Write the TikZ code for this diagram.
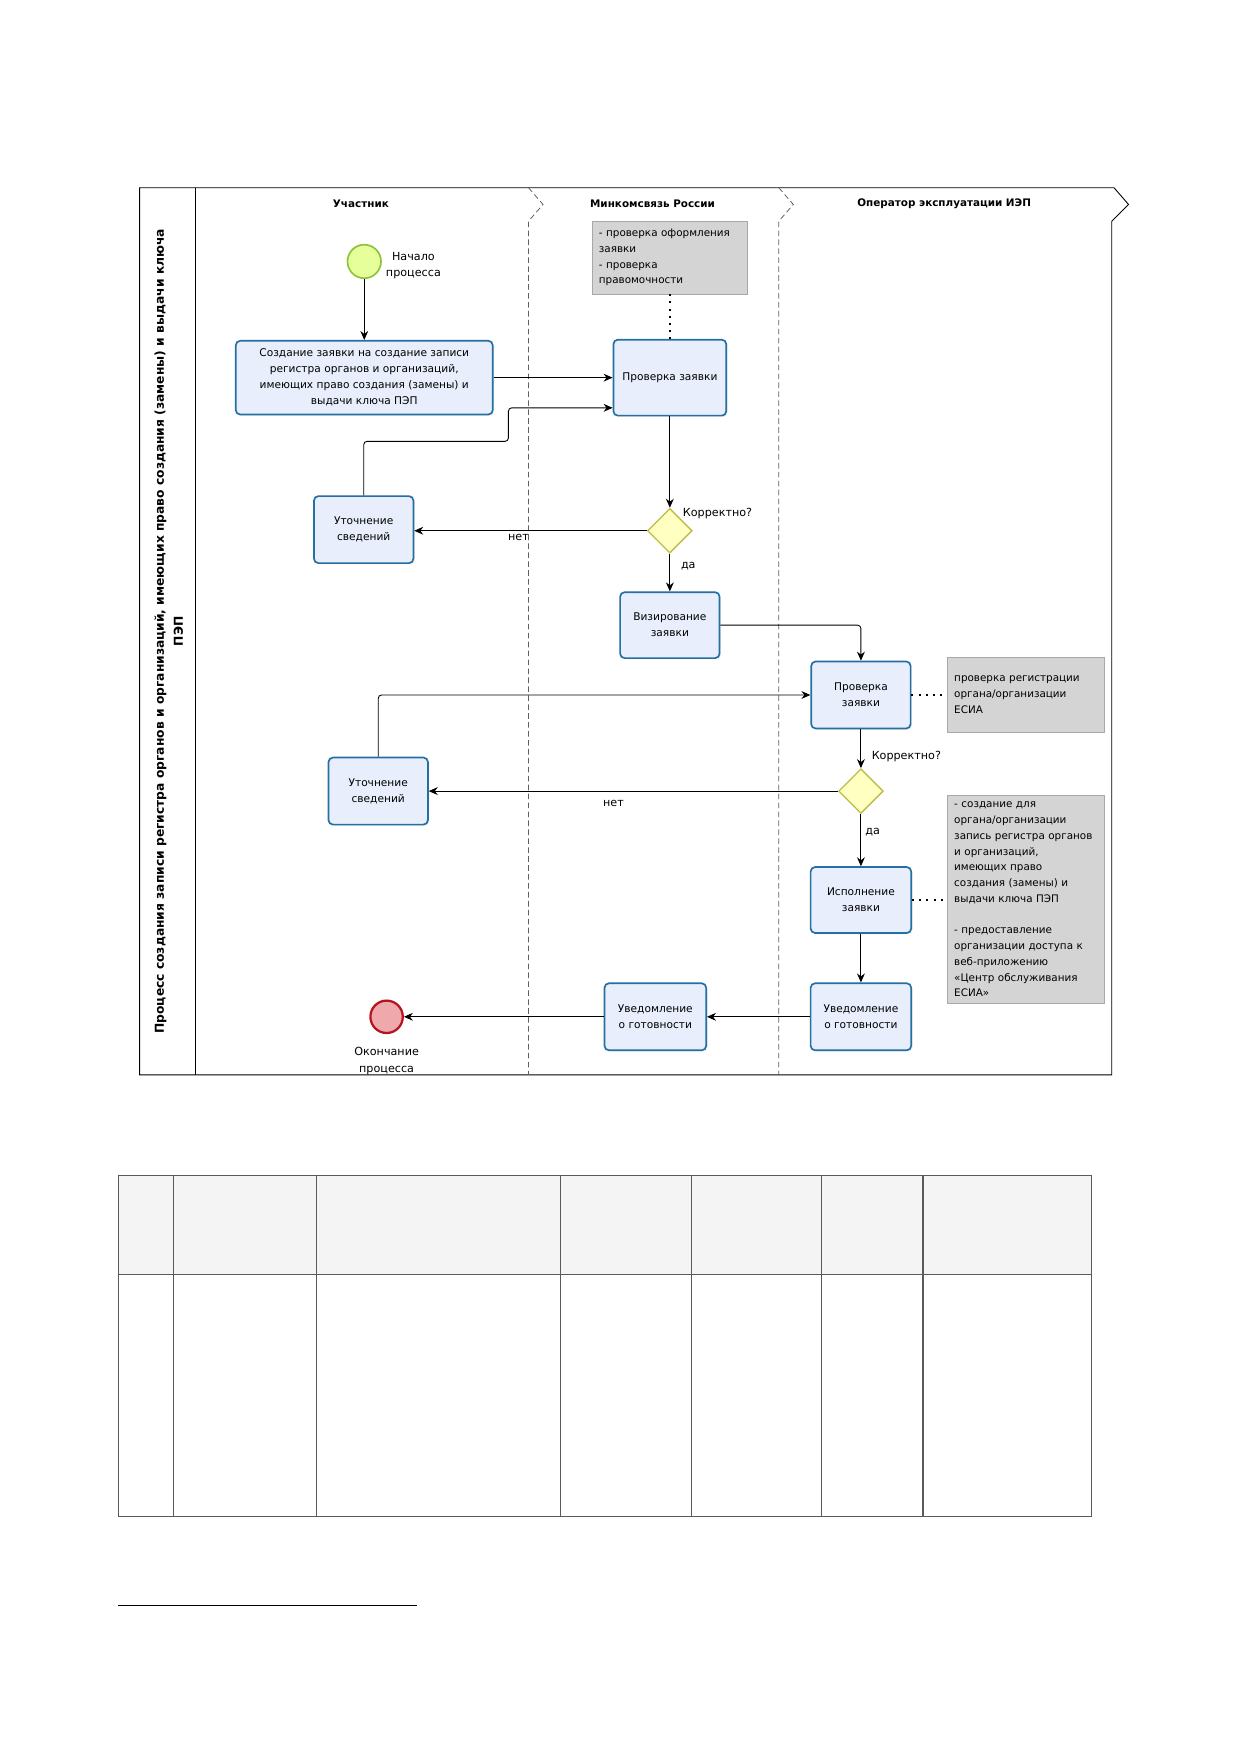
\documentclass[tikz,border=0pt]{standalone}
\usepackage{fontspec}
\setmainfont{DejaVu Sans}
\usetikzlibrary{shapes.geometric,arrows.meta,shadows}
\definecolor{taskfill}{HTML}{E8EEFB}
\definecolor{taskborder}{HTML}{2470A2}
\definecolor{gwfill}{HTML}{FFFFC2}
\definecolor{gwborder}{HTML}{BDBD45}
\definecolor{startfill}{HTML}{E6FF9A}
\definecolor{startborder}{HTML}{8DC43C}
\definecolor{endfill}{HTML}{EFA8AC}
\definecolor{endborder}{HTML}{B4141E}
\definecolor{notefill}{HTML}{D4D4D4}
\definecolor{noteborder}{HTML}{A8A8A8}
\definecolor{lanegray}{HTML}{606060}
\definecolor{headfill}{HTML}{F4F4F4}
\definecolor{tableline}{HTML}{5A5A5A}
\begin{document}
\begin{tikzpicture}[x=1pt,y=-1pt,
  task/.style={draw=taskborder, line width=1.5pt, fill=taskfill, rounded corners=4pt,
    align=center, inner sep=2pt, font=\fontsize{9.5}{14.3}\selectfont,
    drop shadow={opacity=0.12, shadow xshift=1.2pt, shadow yshift=-1.2pt}},
  gateway/.style={diamond, aspect=1, draw=gwborder, line width=1.2pt, fill=gwfill,
    minimum width=40pt, minimum height=40pt, inner sep=0pt},
  note/.style={draw=noteborder, line width=0.6pt, fill=notefill, align=left,
    inner sep=6pt, font=\fontsize{9.3}{14.1}\selectfont},
  lbl/.style={inner sep=0pt, font=\fontsize{10}{14.5}\selectfont},
  lanehead/.style={inner sep=0pt, font=\fontsize{9.3}{11}\selectfont\bfseries},
  flow/.style={line width=0.8pt, -{Stealth[length=8pt,width=7pt]}},
  assoc/.style={line width=1.8pt, dash pattern=on 1.8pt off 4.6pt},
  lanediv/.style={draw=lanegray, line width=0.7pt, dash pattern=on 5pt off 3pt},
  poolline/.style={draw=black, line width=0.8pt},
  tline/.style={draw=tableline, line width=1pt}
]
\fill[white] (0,0) rectangle (1109,1568);
\useasboundingbox (0,0) rectangle (1109,1568);

% ---------- pool ----------
\draw[poolline] (125,168) -- (997,168) -- (1010,183) -- (995,198) -- (995,962) -- (125,962) -- cycle;
\draw[poolline] (175,168) -- (175,962);
\draw[lanediv] (473,168) -- (486,183) -- (473,198) -- (473,962);
\draw[lanediv] (697,168) -- (710,183) -- (697,198) -- (697,962);

\node[rotate=90, align=center, inner sep=0pt, font=\fontsize{11}{17}\selectfont\bfseries] (title) at (151,565)
  {Процесс создания записи регистра органов и организаций, имеющих право создания (замены) и выдачи ключа\\ПЭП};

\node[lanehead] (h1) at (323,182) {Участник};
\node[lanehead] (h2) at (584,182) {Минкомсвязь России};
\node[lanehead] (h3) at (845,182) {Оператор эксплуатации ИЭП};

% ---------- events ----------
\node[circle, draw=startborder, line width=1.5pt, fill=startfill, minimum size=30pt, inner sep=0pt] (start) at (326,234) {};
\node[lbl, align=center] (startlbl) at (370,238) {Начало\\процесса};
\node[circle, draw=endborder, line width=2pt, fill=endfill, minimum size=29pt, inner sep=0pt] (end) at (346,910) {};
\node[lbl, align=center] (endlbl) at (346,949.5) {Окончание\\процесса};

% ---------- tasks ----------
\node[task, minimum width=230pt, minimum height=66pt] (t1) at (326,338)
  {Создание заявки на создание записи\\регистра органов и организаций,\\имеющих право создания (замены) и\\выдачи ключа ПЭП};
\node[task, minimum width=101pt, minimum height=68pt] (t2) at (599.5,338) {Проверка заявки};
\node[task, minimum width=89pt, minimum height=60pt] (u1) at (325.5,474) {Уточнение\\сведений};
\node[task, minimum width=89pt, minimum height=59pt] (viz) at (599.5,559.5) {Визирование\\заявки};
\node[task, minimum width=89pt, minimum height=60pt] (p2) at (770.5,622) {Проверка\\заявки};
\node[task, minimum width=89pt, minimum height=60pt] (u2) at (338.5,708) {Уточнение\\сведений};
\node[task, minimum width=90pt, minimum height=59pt] (isp) at (770.5,805.5) {Исполнение\\заявки};
\node[task, minimum width=90pt, minimum height=60pt] (uvR) at (770.5,910) {Уведомление\\о готовности};
\node[task, minimum width=91pt, minimum height=60pt] (uvM) at (586.5,910) {Уведомление\\о готовности};

% ---------- gateways ----------
\node[gateway] (d1) at (599.5,475) {};
\node[gateway] (d2) at (770.5,708) {};
\node[lbl, anchor=west] (d1q) at (611,460) {Корректно?};
\node[lbl, anchor=west] (d2q) at (780,677) {Корректно?};
\node[lbl] (d1no) at (464,481) {нет};
\node[lbl] (d1yes) at (616,507) {да};
\node[lbl] (d2no) at (549,719) {нет};
\node[lbl] (d2yes) at (781,745) {да};

% ---------- notes ----------
\node[note, text width=127pt, minimum height=65pt] (n1) at (599.5,230.5)
  {- проверка оформления\\заявки\\- проверка\\правомочности};
\node[note, text width=128pt, minimum height=67pt] (n2) at (918,621.5)
  {проверка регистрации\\органа/организации\\ЕСИА};
\node[note, text width=128pt, minimum height=186pt] (n3) at (918,805)
  {- создание для\\органа/организации\\запись регистра органов\\и организаций,\\имеющих право\\создания (замены) и\\выдачи ключа ПЭП\\[14.1pt]- предоставление\\организации доступа к\\веб-приложению\\«Центр обслуживания\\ЕСИА»};

% ---------- associations ----------
\draw[assoc] (n1.south) -- (t2.north);
\draw[assoc] (p2.east) -- (n2.west |- p2.east);
\draw[assoc] (isp.east) -- (n3.west |- isp.east);

% ---------- flows ----------
\draw[flow] (start) -- (t1);
\draw[flow] (t1.east) -- (t2.west |- t1.east);
\draw[flow, rounded corners=3pt] (u1.north) -- (u1.north |- 0,395) -- (455,395) -- (455,365) -- (t2.west |- 0,365);
\draw[flow] (t2.south) -- (d1.north);
\draw[flow] (d1.west) -- (u1.east |- d1.west);
\draw[flow] (d1.south) -- (viz.north);
\draw[flow, rounded corners=3pt] (viz.east) -- (p2.north |- viz.east) -- (p2.north);
\draw[flow, rounded corners=3pt] (u2.north) -- (u2.north |- p2.west) -- (p2.west);
\draw[flow] (p2.south) -- (d2.north);
\draw[flow] (d2.west) -- (u2.east |- d2.west);
\draw[flow] (d2.south) -- (isp.north);
\draw[flow] (isp.south) -- (uvR.north);
\draw[flow] (uvR.west) -- (uvM.east);
\draw[flow] (uvM.west) -- (end.east);

% ---------- table ----------
\fill[headfill] (106,1052) rectangle (977,1141);
\draw[tline] (106,1052) rectangle (977,1357);
\draw[tline] (106,1141) -- (977,1141);
\foreach \cx in {155,283,502,619,735,826} { \draw[tline] (\cx,1052) -- (\cx,1357); }

% ---------- footnote rule ----------
\draw[line width=0.7pt] (106,1437) -- (373,1437);
\end{tikzpicture}
\end{document}
